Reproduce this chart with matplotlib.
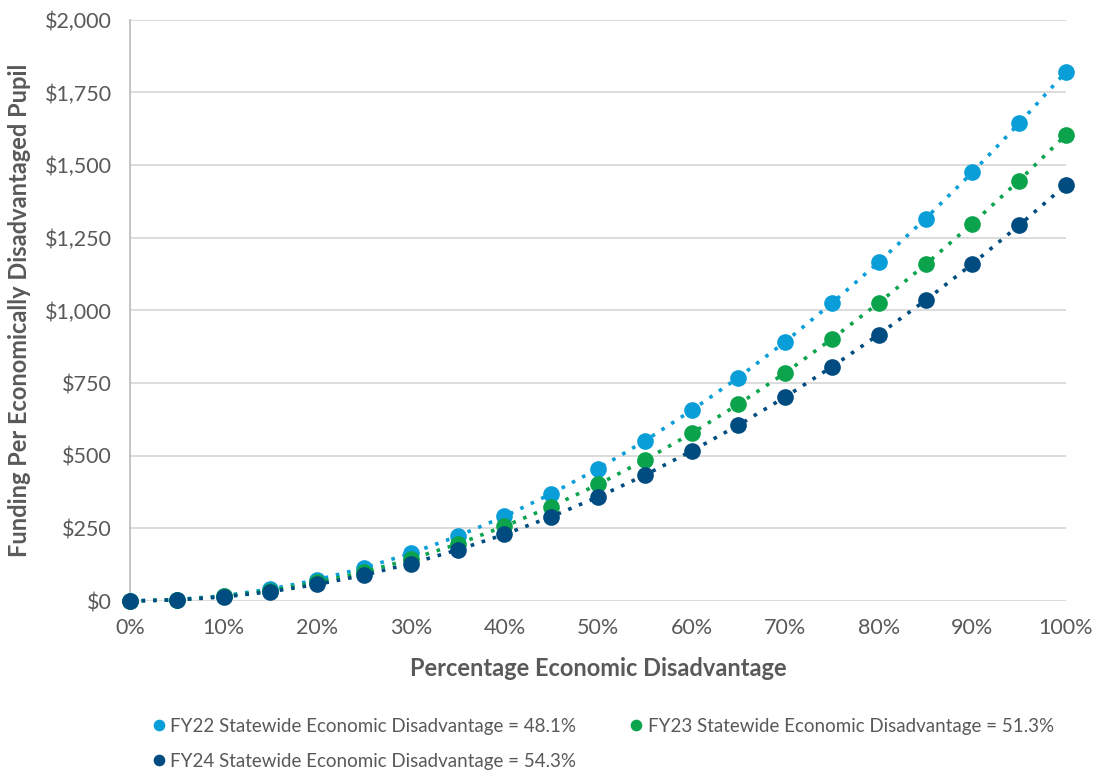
import matplotlib.pyplot as plt
from matplotlib.ticker import FuncFormatter, PercentFormatter

plt.rcParams['font.family'] = ['Lato', 'DejaVu Sans']

# Data
pct = [0, 5, 10, 15, 20, 25, 30, 35, 40, 45, 50, 55, 60, 65, 70, 75, 80, 85, 90, 95, 100]
fy22 = [0, 5, 18, 41, 73, 114, 164, 223, 291, 369, 455, 551, 656, 769, 892, 1025, 1166, 1316, 1475, 1644, 1821]
fy23 = [0, 4, 16, 36, 64, 100, 144, 196, 257, 325, 401, 485, 577, 677, 785, 902, 1026, 1158, 1299, 1447, 1604]
fy24 = [0, 4, 14, 32, 57, 89, 129, 176, 229, 290, 358, 433, 516, 605, 702, 806, 917, 1035, 1160, 1293, 1432]
labels = ['FY22 Statewide Economic Disadvantage = 48.1%',
          'FY23 Statewide Economic Disadvantage = 51.3%',
          'FY24 Statewide Economic Disadvantage = 54.3%']
colors = ['#0A9ED9', '#0BA44C', '#004B7F']

fig = plt.figure(figsize=(10.96, 7.77), dpi=100)
ax = fig.add_axes([0.1186, 0.2265, 0.854, 0.748])

lines = []
for ys, c, lab in zip([fy22, fy23, fy24], colors, labels):
    ln, = ax.plot(pct, ys, linestyle=(0, (1, 2.2)), color=c, lw=2.6,
                  marker='o', markersize=12, markeredgewidth=0, label=lab,
                  clip_on=False, zorder=3)
    lines.append(ln)

ax.set_xlim(0, 100)
ax.set_ylim(0, 2000)
ax.set_xticks(range(0, 101, 10))
ax.set_yticks(range(0, 2001, 250))
ax.xaxis.set_major_formatter(PercentFormatter(decimals=0))
ax.yaxis.set_major_formatter(FuncFormatter(lambda v, p: f'${v:,.0f}'))
ax.grid(axis='y', color='#D9D9D9', lw=1.3, zorder=0)
ax.set_axisbelow(True)
for s in ['top', 'right', 'bottom']:
    ax.spines[s].set_visible(False)
ax.spines['left'].set_color('#BFBFBF')
ax.spines['left'].set_linewidth(1.3)
ax.tick_params(length=0, labelsize=15.5, colors='#595959')
ax.tick_params(axis='x', pad=12)
ax.tick_params(axis='y', pad=13)

ax.set_xlabel('Percentage Economic Disadvantage', fontsize=17, fontweight='bold',
              color='#595959', labelpad=14)
ax.set_ylabel('Funding Per Economically Disadvantaged Pupil', fontsize=17,
              fontweight='bold', color='#595959', labelpad=10)

# row-major order: FY22, FY23 on first row, FY24 below
order = [0, 2, 1]
leg = fig.legend([lines[i] for i in order], [labels[i] for i in order],
                 loc='lower left', bbox_to_anchor=(0.135, 0.0), ncol=2,
                 frameon=False, fontsize=13.5, labelcolor='#595959', handlelength=0.4,
                 handletextpad=0.4, columnspacing=3.0, markerscale=0.7,
                 borderaxespad=0, labelspacing=0.95)
for h in leg.legend_handles:
    h.set_linestyle('none')

fig.savefig('out.png', dpi=100)
